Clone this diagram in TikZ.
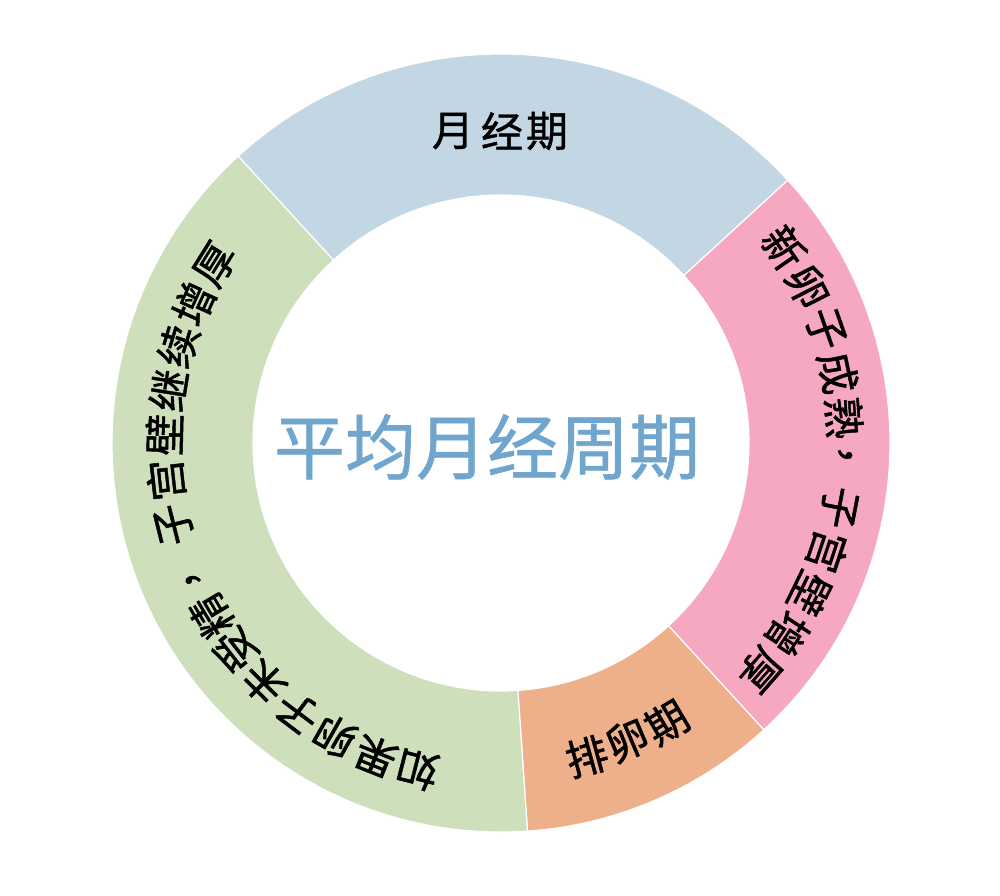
\documentclass[tikz,border=0pt]{standalone}
\usepackage{fontspec}
\newfontfamily\cjk[FakeBold=1.1]{Noto Sans CJK SC}
\newfontfamily\cjktitle[FakeBold=0.8]{Noto Sans CJK SC}
\definecolor{segblue}{HTML}{C3D6E4}
\definecolor{segpink}{HTML}{F6A8C1}
\definecolor{segorange}{HTML}{EDB08A}
\definecolor{seggreen}{HTML}{CDDFBB}
\definecolor{titleblue}{HTML}{70A6CD}
\newcommand\ringsector[3]{\fill[#1,draw=white,line width=1.2pt] (#2:389pt) arc[start angle=#2,end angle=#3,radius=389pt] -- (#3:248pt) arc[start angle=#3,end angle=#2,radius=248pt] -- cycle;}
% character with top pointing outward
\newcommand\outch[4]{\node[ringtext,rotate=#1-90] (#4) at (#1:#2pt) {#3};}
% character with top pointing inward
\newcommand\inch[4]{\node[ringtext,rotate=#1+90] (#4) at (#1:#2pt) {#3};}
\begin{document}
\begin{tikzpicture}[x=1pt,y=1pt,
  ringtext/.style={font=\cjk\fontsize{42}{42}\selectfont, inner sep=0pt, text=black},
  titletext/.style={font=\cjktitle\fontsize{71}{71}\selectfont, inner sep=0pt, text=titleblue}]
\useasboundingbox (-501,-452) rectangle (499,443);
\fill[white] (-501,-452) rectangle (499,443);
% ring
\ringsector{segblue}{132.5}{42.5}
\ringsector{segpink}{42.5}{-47.5}
\ringsector{segorange}{-47.5}{-86.1}
\ringsector{seggreen}{-86.1}{-227.5}
% top
\node[ringtext] (m1) at (-48,312) {月};
\node[ringtext] (m2) at (1,312) {经};
\node[ringtext] (m3) at (46,312) {期};
% pink
\outch{34.6}{344}{新}{p1}
\outch{27}{344}{卵}{p2}
\outch{19.4}{344}{子}{p3}
\outch{11.8}{344}{成}{p4}
\outch{4.2}{344}{熟}{p5}
\outch{-3.8}{344}{，}{p6}
\outch{-10.8}{344}{子}{p7}
\outch{-18.4}{344}{宫}{p8}
\outch{-26}{344}{壁}{p9}
\outch{-33.6}{344}{增}{p10}
\outch{-41.2}{344}{厚}{p11}
% orange
\inch{-74.7}{325}{排}{o1}
\inch{-67}{323}{卵}{o2}
\inch{-59.3}{325}{期}{o3}
% green
\outch{255.7}{337}{如}{g1}
\outch{248.2}{337}{果}{g2}
\outch{240.5}{337}{卵}{g3}
\outch{233}{337}{子}{g4}
\outch{225.3}{337}{未}{g5}
\outch{217.9}{337}{受}{g6}
\outch{210.8}{337}{精}{g7}
\outch{202}{337}{，}{g8}
\outch{194}{337}{子}{g9}
\outch{186.3}{337}{宫}{g10}
\outch{178.6}{337}{壁}{g11}
\outch{171}{337}{继}{g12}
\outch{163.3}{337}{续}{g13}
\outch{155.6}{337}{增}{g14}
\outch{148}{337}{厚}{g15}
% centre
\node[titletext] (title) at (-14,-4) {平均月经周期};
\end{tikzpicture}
\end{document}
